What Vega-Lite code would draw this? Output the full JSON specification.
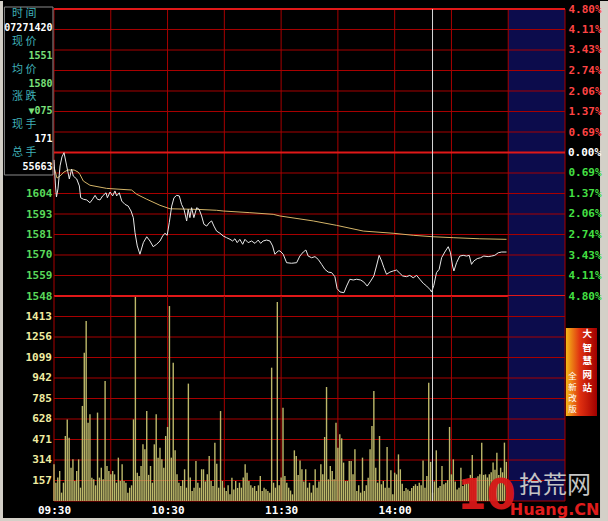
{
"$schema":"https://vega.github.io/schema/vega-lite/v6.json",
"background":"#000000",
"padding":0,
"bounds":"flush",
"spacing":0,
"config":{"view":{"stroke":null},"axis":{"domain":false,"ticks":false,"grid":false,"labelFont":"DejaVu Sans Mono","labelFontWeight":"bold","labelFontSize":11,"labelFlush":false,"labelOverlap":false,"labelBound":false,"title":null,"zindex":2},"text":{"lineBreak":"\n"}},
"datasets":{
"price":[{"t":0,"p":1622},{"t":0.8,"p":1607.8},{"t":1.3,"p":1601.8},{"t":2.1,"p":1606.2},{"t":3.2,"p":1618.7},{"t":4.2,"p":1623.6},{"t":5.3,"p":1625.9},{"t":6.7,"p":1618.7},{"t":8.1,"p":1611.6},{"t":9.3,"p":1617},{"t":10.2,"p":1613.2},{"t":12,"p":1611.6},{"t":13.4,"p":1607.8},{"t":14.1,"p":1601.4},{"t":15.5,"p":1600.6},{"t":17.3,"p":1600.2},{"t":19,"p":1598.7},{"t":20.4,"p":1600.6},{"t":21.7,"p":1602.7},{"t":22.9,"p":1600.6},{"t":24.3,"p":1600.2},{"t":25.7,"p":1602.4},{"t":27.5,"p":1604.1},{"t":28.2,"p":1601.4},{"t":29.6,"p":1604.5},{"t":31,"p":1602.4},{"t":32.2,"p":1605.1},{"t":33.1,"p":1602.4},{"t":34.5,"p":1604.1},{"t":35.8,"p":1599.6},{"t":37.5,"p":1597.8},{"t":39.2,"p":1596.9},{"t":40.7,"p":1594.2},{"t":41.9,"p":1590.6},{"t":42.8,"p":1582.4},{"t":44,"p":1575.2},{"t":45.4,"p":1570.7},{"t":47.2,"p":1577},{"t":49,"p":1580.2},{"t":50.7,"p":1577.9},{"t":52.4,"p":1574.8},{"t":54.2,"p":1576.1},{"t":56,"p":1577.9},{"t":57.4,"p":1580.6},{"t":58.6,"p":1582.1},{"t":59.8,"p":1581},{"t":60.9,"p":1587.8},{"t":62.2,"p":1596.9},{"t":63.4,"p":1601.4},{"t":64.8,"p":1602.7},{"t":66.2,"p":1602.4},{"t":67.4,"p":1597.8},{"t":68.7,"p":1595.1},{"t":70.1,"p":1588.8},{"t":70.9,"p":1595.1},{"t":71.8,"p":1590.6},{"t":72.7,"p":1596},{"t":73.9,"p":1590.6},{"t":75.4,"p":1596},{"t":76.7,"p":1595.1},{"t":78,"p":1591.5},{"t":79.2,"p":1587},{"t":80.7,"p":1586},{"t":82,"p":1587.8},{"t":83.3,"p":1588.8},{"t":84.5,"p":1586},{"t":85.9,"p":1583.3},{"t":87.7,"p":1582.1},{"t":89.4,"p":1580.6},{"t":91.2,"p":1579.7},{"t":93,"p":1578.8},{"t":94.4,"p":1577.9},{"t":95.6,"p":1579.1},{"t":96.8,"p":1577},{"t":98.2,"p":1578.8},{"t":99.7,"p":1576.1},{"t":100.9,"p":1578.8},{"t":102.6,"p":1577},{"t":104.4,"p":1577.9},{"t":106.2,"p":1576.6},{"t":107.9,"p":1578.4},{"t":109.2,"p":1576.6},{"t":110.5,"p":1577.9},{"t":112.3,"p":1578.4},{"t":114.1,"p":1577.9},{"t":115.5,"p":1575.2},{"t":116.7,"p":1570.7},{"t":118.5,"p":1572.5},{"t":119.4,"p":1572.5},{"t":121.1,"p":1570.7},{"t":122.9,"p":1566.1},{"t":125.5,"p":1565.8},{"t":128.2,"p":1566.1},{"t":129.9,"p":1569.7},{"t":131.7,"p":1571.9},{"t":133.1,"p":1573},{"t":134.3,"p":1569.7},{"t":136.1,"p":1568.8},{"t":137.9,"p":1569.4},{"t":139.6,"p":1567.9},{"t":141.4,"p":1565.2},{"t":143.1,"p":1562.5},{"t":144.9,"p":1561},{"t":146.7,"p":1560.7},{"t":148.4,"p":1558.5},{"t":149.6,"p":1552},{"t":151.1,"p":1550.2},{"t":153.2,"p":1549.8},{"t":154.6,"p":1553.4},{"t":156.3,"p":1557.1},{"t":158.1,"p":1556.7},{"t":159.9,"p":1557.1},{"t":162,"p":1556.7},{"t":163.7,"p":1555.6},{"t":165.5,"p":1553.4},{"t":167.3,"p":1556.1},{"t":169,"p":1558.9},{"t":170.4,"p":1564.3},{"t":171.8,"p":1570.1},{"t":173.1,"p":1567},{"t":174.3,"p":1563.4},{"t":175.7,"p":1559.8},{"t":177.5,"p":1561},{"t":179.2,"p":1561.6},{"t":181,"p":1562.1},{"t":182.4,"p":1560.7},{"t":184.2,"p":1558.9},{"t":186.3,"p":1558.5},{"t":188,"p":1559.2},{"t":189.8,"p":1557.9},{"t":191.6,"p":1559.2},{"t":193.3,"p":1557.1},{"t":195.1,"p":1554.9},{"t":196.9,"p":1553.4},{"t":198.6,"p":1551.6},{"t":199.5,"p":1550.2},{"t":200.7,"p":1553.8},{"t":202.1,"p":1560.7},{"t":203.5,"p":1562.5},{"t":204.8,"p":1568.8},{"t":206.5,"p":1571.9},{"t":208.3,"p":1574.8},{"t":209.5,"p":1571.5},{"t":210.6,"p":1564.3},{"t":211.3,"p":1561.6},{"t":212.7,"p":1566.1},{"t":214.4,"p":1569.7},{"t":216.2,"p":1570.1},{"t":218,"p":1569.7},{"t":219.4,"p":1570.1},{"t":220.6,"p":1565.2},{"t":221.8,"p":1567},{"t":223.6,"p":1568.3},{"t":225.4,"p":1568.8},{"t":227.1,"p":1569.7},{"t":229.4,"p":1569.4},{"t":231.2,"p":1569.7},{"t":232.9,"p":1570.1},{"t":234.7,"p":1571.5},{"t":236.5,"p":1571.9},{"t":239.1,"p":1571.9}],
"avg":[{"t":0,"a":1618},{"t":1.6,"a":1612.1},{"t":3.2,"a":1613.2},{"t":5.3,"a":1615.4},{"t":7.4,"a":1616.5},{"t":10.6,"a":1616.5},{"t":12.7,"a":1615.4},{"t":13.7,"a":1614.1},{"t":15.5,"a":1610.5},{"t":19,"a":1608.2},{"t":27.8,"a":1606.5},{"t":41,"a":1605.6},{"t":43.7,"a":1603.3},{"t":49,"a":1600.6},{"t":56,"a":1597.3},{"t":61.3,"a":1595.4},{"t":75.4,"a":1595.1},{"t":85.9,"a":1594.6},{"t":89.4,"a":1594.2},{"t":103.5,"a":1593.3},{"t":115.8,"a":1592.4},{"t":119.4,"a":1591.5},{"t":137,"a":1588.8},{"t":149.3,"a":1586.4},{"t":163.4,"a":1583.3},{"t":179.2,"a":1582.1},{"t":189.8,"a":1581},{"t":200.3,"a":1580.2},{"t":210.9,"a":1579.7},{"t":225,"a":1579.1},{"t":239.1,"a":1578.8}],
"vol":[{"t":0,"v":281},{"t":1,"v":140},{"t":2,"v":180},{"t":3,"v":230},{"t":4,"v":64},{"t":5,"v":140},{"t":6,"v":498},{"t":7,"v":625},{"t":8,"v":485},{"t":9,"v":255},{"t":10,"v":319},{"t":11,"v":153},{"t":12,"v":230},{"t":13,"v":319},{"t":14,"v":102},{"t":15,"v":728},{"t":16,"v":1136},{"t":17,"v":1378},{"t":18,"v":600},{"t":19,"v":664},{"t":20,"v":179},{"t":21,"v":166},{"t":22,"v":120},{"t":23,"v":677},{"t":24,"v":179},{"t":25,"v":255},{"t":26,"v":166},{"t":27,"v":919},{"t":28,"v":268},{"t":29,"v":230},{"t":30,"v":204},{"t":31,"v":230},{"t":32,"v":204},{"t":33,"v":140},{"t":34,"v":332},{"t":35,"v":153},{"t":36,"v":281},{"t":37,"v":153},{"t":38,"v":140},{"t":39,"v":64},{"t":40,"v":102},{"t":41,"v":120},{"t":42,"v":625},{"t":43,"v":1563},{"t":44,"v":217},{"t":45,"v":191},{"t":46,"v":268},{"t":47,"v":434},{"t":48,"v":396},{"t":49,"v":689},{"t":50,"v":200},{"t":51,"v":268},{"t":52,"v":140},{"t":53,"v":434},{"t":54,"v":664},{"t":55,"v":332},{"t":56,"v":408},{"t":57,"v":319},{"t":58,"v":255},{"t":59,"v":498},{"t":60,"v":567},{"t":61,"v":1493},{"t":62,"v":332},{"t":63,"v":1059},{"t":64,"v":388},{"t":65,"v":204},{"t":66,"v":140},{"t":67,"v":115},{"t":68,"v":160},{"t":69,"v":243},{"t":70,"v":102},{"t":71,"v":899},{"t":72,"v":180},{"t":73,"v":77},{"t":74,"v":102},{"t":75,"v":306},{"t":76,"v":140},{"t":77,"v":102},{"t":78,"v":243},{"t":79,"v":243},{"t":80,"v":150},{"t":81,"v":204},{"t":82,"v":345},{"t":83,"v":153},{"t":84,"v":115},{"t":85,"v":447},{"t":86,"v":286},{"t":87,"v":102},{"t":88,"v":689},{"t":89,"v":153},{"t":90,"v":102},{"t":91,"v":77},{"t":92,"v":120},{"t":93,"v":51},{"t":94,"v":179},{"t":95,"v":89},{"t":96,"v":153},{"t":97,"v":100},{"t":98,"v":140},{"t":99,"v":102},{"t":100,"v":180},{"t":101,"v":281},{"t":102,"v":217},{"t":103,"v":153},{"t":104,"v":120},{"t":105,"v":102},{"t":106,"v":115},{"t":107,"v":77},{"t":108,"v":120},{"t":109,"v":191},{"t":110,"v":77},{"t":111,"v":102},{"t":112,"v":90},{"t":113,"v":77},{"t":114,"v":64},{"t":115,"v":1021},{"t":116,"v":140},{"t":117,"v":102},{"t":118,"v":1524},{"t":119,"v":120},{"t":120,"v":180},{"t":121,"v":715},{"t":122,"v":191},{"t":123,"v":140},{"t":124,"v":102},{"t":125,"v":80},{"t":126,"v":51},{"t":127,"v":388},{"t":128,"v":345},{"t":129,"v":200},{"t":130,"v":311},{"t":131,"v":243},{"t":132,"v":150},{"t":133,"v":243},{"t":134,"v":102},{"t":135,"v":140},{"t":136,"v":64},{"t":137,"v":120},{"t":138,"v":243},{"t":139,"v":102},{"t":140,"v":150},{"t":141,"v":281},{"t":142,"v":204},{"t":143,"v":490},{"t":144,"v":873},{"t":145,"v":166},{"t":146,"v":268},{"t":147,"v":230},{"t":148,"v":166},{"t":149,"v":600},{"t":150,"v":408},{"t":151,"v":511},{"t":152,"v":480},{"t":153,"v":294},{"t":154,"v":153},{"t":155,"v":153},{"t":156,"v":306},{"t":157,"v":306},{"t":158,"v":204},{"t":159,"v":396},{"t":160,"v":77},{"t":161,"v":120},{"t":162,"v":64},{"t":163,"v":332},{"t":164,"v":77},{"t":165,"v":120},{"t":166,"v":179},{"t":167,"v":396},{"t":168,"v":574},{"t":169,"v":842},{"t":170,"v":255},{"t":171,"v":140},{"t":172,"v":498},{"t":173,"v":128},{"t":174,"v":153},{"t":175,"v":102},{"t":176,"v":413},{"t":177,"v":102},{"t":178,"v":235},{"t":179,"v":51},{"t":180,"v":217},{"t":181,"v":204},{"t":182,"v":357},{"t":183,"v":243},{"t":184,"v":133},{"t":185,"v":77},{"t":186,"v":100},{"t":187,"v":89},{"t":188,"v":77},{"t":189,"v":100},{"t":190,"v":115},{"t":191,"v":128},{"t":192,"v":115},{"t":193,"v":140},{"t":194,"v":120},{"t":195,"v":311},{"t":196,"v":102},{"t":197,"v":191},{"t":198,"v":906},{"t":199,"v":300},{"t":200,"v":64},{"t":201,"v":150},{"t":202,"v":388},{"t":203,"v":102},{"t":204,"v":115},{"t":205,"v":268},{"t":206,"v":128},{"t":207,"v":140},{"t":208,"v":160},{"t":209,"v":567},{"t":210,"v":204},{"t":211,"v":319},{"t":212,"v":150},{"t":213,"v":89},{"t":214,"v":102},{"t":215,"v":255},{"t":216,"v":115},{"t":217,"v":160},{"t":218,"v":140},{"t":219,"v":153},{"t":220,"v":200},{"t":221,"v":352},{"t":222,"v":160},{"t":223,"v":179},{"t":224,"v":190},{"t":225,"v":204},{"t":226,"v":447},{"t":227,"v":200},{"t":228,"v":204},{"t":229,"v":180},{"t":230,"v":204},{"t":231,"v":220},{"t":232,"v":294},{"t":233,"v":240},{"t":234,"v":370},{"t":235,"v":200},{"t":236,"v":255},{"t":237,"v":220},{"t":238,"v":447},{"t":239,"v":300}],
"info":[{"r":0,"s":"时 间","k":"lab"},{"r":1,"s":"07271420","k":"wht"},{"r":2,"s":"现 价","k":"lab"},{"r":3,"s":"1551","k":"grn"},{"r":4,"s":"均 价","k":"lab"},{"r":5,"s":"1580","k":"grn"},{"r":6,"s":"涨 跌","k":"lab"},{"r":7,"s":"▼075","k":"grn"},{"r":8,"s":"现 手","k":"lab"},{"r":9,"s":"171","k":"wht"},{"r":10,"s":"总 手","k":"lab"},{"r":11,"s":"55663","k":"wht"}],
"vgrid":[{"t":0},{"t":30},{"t":60},{"t":90},{"t":120},{"t":150},{"t":180},{"t":210},{"t":240},{"t":270}],
"pgrid":[{"g":1548},{"g":1559.14},{"g":1570.29},{"g":1581.43},{"g":1592.57},{"g":1603.71},{"g":1614.86},{"g":1626},{"g":1637.14},{"g":1648.29},{"g":1659.43},{"g":1670.57},{"g":1681.71},{"g":1692.86},{"g":1704}],
"pct":[{"q":-4.8},{"q":-4.1143},{"q":-3.4286},{"q":-2.7429},{"q":-2.0571},{"q":-1.3714},{"q":-0.6857},{"q":0.6857},{"q":1.3714},{"q":2.0571},{"q":2.7429},{"q":3.4286},{"q":4.1143},{"q":4.8}],
"vgridv":[{"g":0},{"g":157},{"g":314},{"g":471},{"g":628},{"g":785},{"g":942},{"g":1099},{"g":1256},{"g":1413}],
"one":[{"o":1}]
},
"vconcat":[
{
"width":511,"height":287,
"layer":[
{
"layer":[
{"data":{"name":"one"},"mark":{"type":"rect","color":"#d4d0c8"},"encoding":{"x":{"datum":-28.53,"type":"quantitative","scale":{"domain":[0,270],"nice":false,"zero":false,"padding":0},"axis":null},"x2":{"datum":292.72},"y":{"datum":1708.35,"type":"quantitative","scale":{"domain":[1548,1704],"nice":false,"zero":false}},"y2":{"datum":1425.16}}},
{"data":{"name":"one"},"mark":{"type":"rect","color":"#000000"},"encoding":{"x":{"datum":-26.95,"type":"quantitative","axis":null},"x2":{"datum":288.5},"y":{"datum":1708.35,"type":"quantitative"},"y2":{"datum":1427.33}}},
{"data":{"name":"one"},"mark":{"type":"rect","color":"#0c0c4c"},"encoding":{"x":{"datum":240,"type":"quantitative","axis":null},"x2":{"datum":270},"y":{"datum":1704,"type":"quantitative"},"y2":{"datum":1548}}},
{"data":{"name":"vgrid"},"mark":{"type":"rule","color":"#a80000","strokeWidth":1},"encoding":{"x":{"field":"t","type":"quantitative","axis":null}}},
{"data":{"name":"pgrid"},"mark":{"type":"rule","color":"#a80000","strokeWidth":1},"encoding":{"y":{"field":"g","type":"quantitative"}}},
{"data":{"values":[{"g":1626},{"g":1548},{"g":1704}]},"mark":{"type":"rule","color":"#e01818","strokeWidth":2},"encoding":{"y":{"field":"g","type":"quantitative"}}},
{"data":{"name":"avg"},"mark":{"type":"line","color":"#d4b468","strokeWidth":1},"encoding":{"x":{"field":"t","type":"quantitative","axis":null},"y":{"field":"a","type":"quantitative"}}},
{"data":{"name":"price"},"mark":{"type":"line","color":"#e8e8e8","strokeWidth":1},"encoding":{"x":{"field":"t","type":"quantitative","axis":null},"y":{"field":"p","type":"quantitative","axis":{"orient":"left","values":[1548,1559.14,1570.29,1581.43,1592.57,1603.71],"labelExpr":"format(datum.value,'.0f')","labelColor":"#5ad85a","labelPadding":2,"labelOverlap":false,"labelFlush":false,"zindex":2}}}},
{"data":{"name":"one"},"mark":{"type":"rule","color":"#d8d8d8","strokeWidth":1},"encoding":{"x":{"datum":200,"type":"quantitative","axis":null}}}
]
},
{
"data":{"name":"pct"},
"mark":{"type":"rule","strokeOpacity":0},
"encoding":{"y":{"field":"q","type":"quantitative","scale":{"domain":[-4.8,4.8],"nice":false,"zero":false},"axis":{"orient":"right","values":[-4.8,-4.1143,-3.4286,-2.7429,-2.0571,-1.3714,-0.6857,0.6857,1.3714,2.0571,2.7429,3.4286,4.1143,4.8],"labelExpr":"format(abs(datum.value),'.2f')+'%'","labelPadding":3,"labelOverlap":false,"labelFlush":false,"zindex":2,"labelColor":{"condition":{"test":"datum.value > 0.01","value":"#ff4444"},"value":"#44e044"}}}}
},
{
"data":{"values":[{"z":0}]},
"mark":{"type":"text","text":"0.00%","font":"DejaVu Sans Mono","fontWeight":"bold","fontSize":11,"color":"#ffffff","align":"left","baseline":"middle","dx":3},
"encoding":{"x":{"datum":270,"type":"quantitative","axis":null},"y":{"field":"z","type":"quantitative","scale":{"domain":[-4.8,4.8],"nice":false,"zero":false},"axis":null}}
},
{
"layer":[
{"data":{"name":"one"},"mark":{"type":"rect","fill":"#000000","stroke":"#8a8a8a","strokeWidth":1},"encoding":{"x":{"datum":-26.2,"type":"quantitative","axis":null},"x2":{"datum":-0.53},"y":{"datum":-0.503,"type":"quantitative","scale":{"domain":[-0.3595,20.273],"reverse":true,"nice":false,"zero":false},"axis":null},"y2":{"datum":11.575}}},
{"data":{"name":"info"},"transform":[{"filter":"datum.k == 'lab'"}],"mark":{"type":"text","align":"left","baseline":"middle","font":"Noto Sans CJK SC","fontSize":11},"encoding":{"x":{"datum":-22.19,"type":"quantitative","axis":null},"y":{"field":"r","type":"quantitative","axis":null},"text":{"field":"s"},"color":{"field":"k","type":"nominal","scale":{"domain":["lab","wht","grn"],"range":["#3fb0b8","#ffffff","#7ae07a"]},"legend":null}}},
{"data":{"name":"info"},"transform":[{"filter":"datum.k != 'lab'"}],"mark":{"type":"text","align":"right","baseline":"middle","font":"DejaVu Sans Mono","fontWeight":"bold","fontSize":10},"encoding":{"x":{"datum":-0.79,"type":"quantitative","axis":null},"y":{"field":"r","type":"quantitative","axis":null},"text":{"field":"s"},"color":{"field":"k","type":"nominal","legend":null}}}
]
}
],
"resolve":{"scale":{"y":"independent"},"axis":{"y":"independent"}}
},
{
"width":511,"height":205,
"layer":[
{"data":{"name":"one"},"mark":{"type":"rect","color":"#0c0c4c"},"encoding":{"x":{"datum":240,"type":"quantitative","scale":{"domain":[0,270],"nice":false,"zero":false,"padding":0}},"x2":{"datum":270},"y":{"datum":1570,"type":"quantitative","scale":{"domain":[0,1570],"nice":false,"zero":false},"axis":null},"y2":{"datum":0}}},
{"data":{"name":"vgrid"},"mark":{"type":"rule","color":"#a80000","strokeWidth":1},"encoding":{"x":{"field":"t","type":"quantitative"}}},
{"data":{"name":"vgridv"},"mark":{"type":"rule","color":"#a80000","strokeWidth":1},"encoding":{"y":{"field":"g","type":"quantitative","axis":null}}},
{"data":{"name":"vgridv"},"transform":[{"filter":"datum.g > 0"}],"mark":{"type":"text","font":"DejaVu Sans Mono","fontWeight":"bold","fontSize":11,"color":"#f0eca0","align":"right","baseline":"middle","dx":-2},"encoding":{"x":{"datum":0,"type":"quantitative"},"y":{"field":"g","type":"quantitative","axis":null},"text":{"field":"g","type":"quantitative","format":"d"}}},
{"data":{"name":"vol"},"mark":{"type":"bar","color":"#bcb86a","size":1.4},"encoding":{"x":{"field":"t","type":"quantitative","axis":{"orient":"bottom","values":[0,60,120,180],"labelExpr":"datum.value==0?'09:30':datum.value==60?'10:30':datum.value==120?'11:30':'14:00'","labelColor":"#ffffff","labelPadding":3,"labelOverlap":false,"labelFlush":false,"zindex":2}},"y":{"field":"v","type":"quantitative","axis":null}}},
{"data":{"name":"one"},"mark":{"type":"rule","color":"#d8d8d8","strokeWidth":1},"encoding":{"x":{"datum":200,"type":"quantitative"}}},
{"data":{"name":"one"},"mark":{"type":"rect","color":{"gradient":"linear","x1":0,"x2":1,"y1":0.5,"y2":0.5,"stops":[{"offset":0,"color":"#f4b818"},{"offset":0.45,"color":"#e03010"},{"offset":1,"color":"#a00000"}]}},"encoding":{"x":{"datum":270.5,"type":"quantitative"},"x2":{"datum":286.9},"y":{"datum":1324.9,"type":"quantitative","axis":null},"y2":{"datum":651}}},
{"data":{"name":"one"},"mark":{"type":"text","text":"大\n智\n慧\n网\n站","font":"Noto Sans CJK SC","fontWeight":"bold","fontSize":9.5,"lineHeight":13.5,"color":"#ffffff","align":"center","baseline":"top"},"encoding":{"x":{"datum":281.8,"type":"quantitative"},"y":{"datum":1315,"type":"quantitative","axis":null}}},
{"data":{"name":"one"},"mark":{"type":"text","text":"全\n新\n改\n版","font":"Noto Sans CJK SC","fontSize":8.5,"lineHeight":11,"color":"#ffffff","align":"center","baseline":"top"},"encoding":{"x":{"datum":273.9,"type":"quantitative"},"y":{"datum":990,"type":"quantitative","axis":null}}},
{"data":{"name":"one"},"mark":{"type":"text","text":"10","font":"DejaVu Sans","fontWeight":"bold","fontSize":42,"color":"#d81818","align":"center","baseline":"middle","opacity":0.95},"encoding":{"x":{"datum":228.5,"type":"quantitative"},"y":{"datum":38,"type":"quantitative","axis":null}}},
{"data":{"name":"one"},"mark":{"type":"text","text":"拾荒网","font":"Noto Sans CJK SC","fontSize":24,"color":"#c4c4c4","align":"center","baseline":"middle"},"encoding":{"x":{"datum":264.7,"type":"quantitative"},"y":{"datum":115,"type":"quantitative","axis":null}}},
{"data":{"name":"one"},"mark":{"type":"text","text":"Huang.CN","font":"DejaVu Sans","fontWeight":"bold","fontSize":16,"color":"#e01c1c","align":"center","baseline":"middle"},"encoding":{"x":{"datum":264.5,"type":"quantitative"},"y":{"datum":-69,"type":"quantitative","axis":null}}}
]
}
]
}
